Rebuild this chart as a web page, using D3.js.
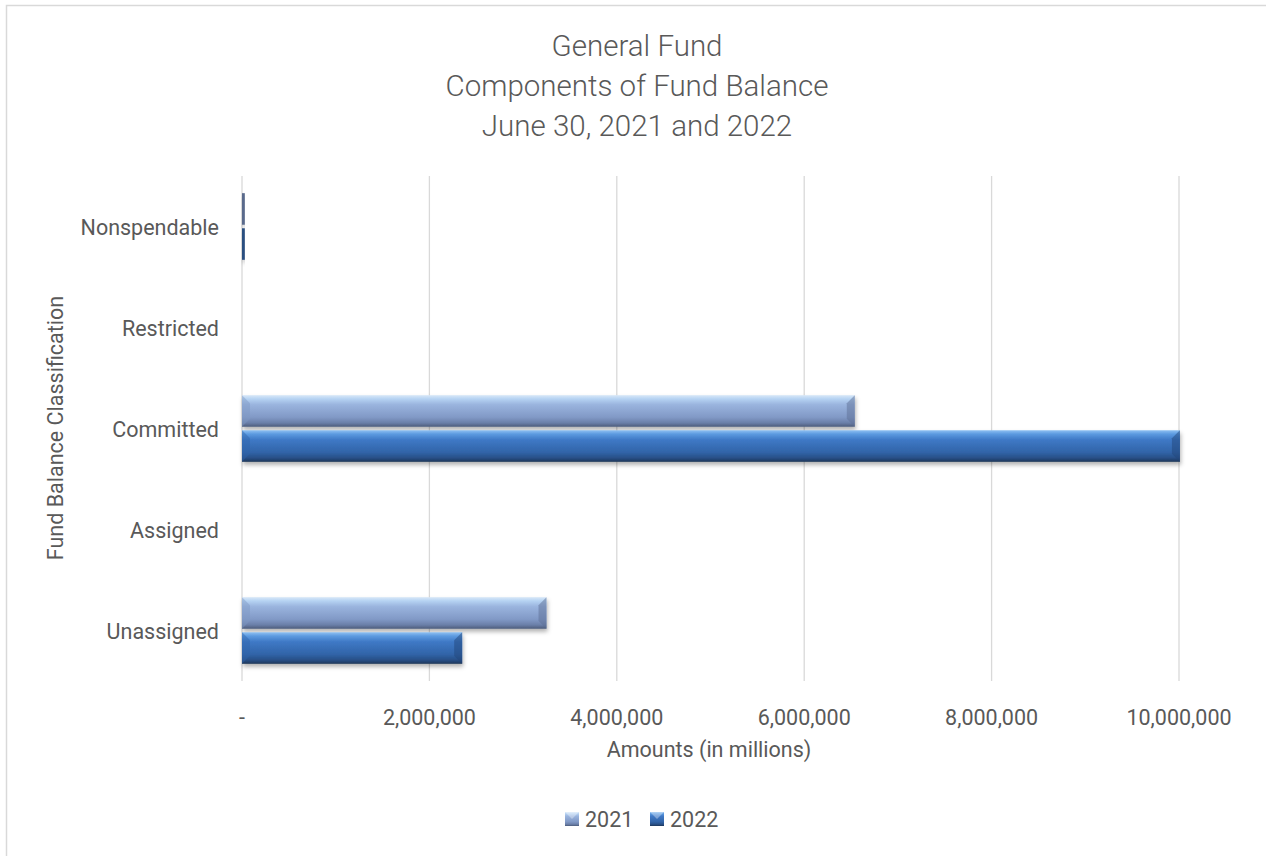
<!DOCTYPE html>
<html><head><meta charset="utf-8">
<script src="https://cdn.jsdelivr.net/npm/d3@7"></script>
<style>
body{margin:0;background:#fff;}
svg{display:block;}
text{font-family:Roboto, "Open Sans", sans-serif;fill:#595959;}
</style></head>
<body>
<script>
const categories = ["Nonspendable","Restricted","Committed","Assigned","Unassigned"];
const seriesNames = ["2021","2022"];
const values2021 = [30000, 0, 6540000, 0, 3250000];
const values2022 = [30000, 0, 10010000, 0, 2350000];
const xTicks = [0, 2000000, 4000000, 6000000, 8000000, 10000000];
const titleLines = ["General Fund","Components of Fund Balance","June 30, 2021 and 2022"];

const W = 1266, H = 856;
const svg = d3.select("body").append("svg").attr("width", W).attr("height", H);
const defs = svg.append("defs");

const palettes = {
  "2021": [["0%","#d8e8f8"],["12%","#b5d2f2"],["30%","#9ab4de"],["70%","#8199c6"],["88%","#6a7fa8"],["100%","#4c5b7a"]],
  "2022": [["0%","#8ec0f2"],["12%","#5c9ae0"],["30%","#3f79c6"],["70%","#3164a8"],["88%","#284f86"],["100%","#1d3658"]]
};
seriesNames.forEach((s,i)=>{
  const g = defs.append("linearGradient").attr("id","grad"+s).attr("x1",0).attr("y1",0).attr("x2",0).attr("y2",1);
  palettes[s].forEach(([o,c])=>g.append("stop").attr("offset",o).attr("stop-color",c));
});
const f = defs.append("filter").attr("id","shadow").attr("x","-5%").attr("y","-20%").attr("width","110%").attr("height","160%");
f.append("feDropShadow").attr("dx",1).attr("dy",3).attr("stdDeviation",2).attr("flood-color","#000").attr("flood-opacity",0.3);

// chart border
svg.append("rect").attr("x",6.5).attr("y",5.5).attr("width",W).attr("height",H).attr("fill","none").attr("stroke","#d9d9d9").attr("stroke-width",1.5);

const m = {left:242, right:1179, top:176, bottom:681};
const x = d3.scaleLinear().domain([0,10000000]).range([m.left, m.right]);
const y = d3.scaleBand().domain(categories).range([m.top, m.bottom]).paddingInner(0.34).paddingOuter(0.17);
const y1 = d3.scaleBand().domain(seriesNames).range([0, y.bandwidth()]).paddingInner(0.1);

// gridlines
svg.append("g").selectAll("line").data(xTicks.slice(1)).join("line")
  .attr("x1",d=>x(d)).attr("x2",d=>x(d)).attr("y1",m.top).attr("y2",m.bottom)
  .attr("stroke","#d9d9d9").attr("stroke-width",1.3);
svg.append("line").attr("x1",x(0)).attr("x2",x(0)).attr("y1",m.top).attr("y2",m.bottom)
  .attr("stroke","#d9d9d9").attr("stroke-width",1.3);

// bars
const data = categories.map((c,i)=>({cat:c, vals:[{s:"2021",v:values2021[i]},{s:"2022",v:values2022[i]}]}));
const groups = svg.append("g").selectAll("g").data(data).join("g")
  .attr("transform",d=>`translate(0,${y(d.cat)})`);
groups.selectAll("g.bar").data(d=>d.vals.filter(v=>v.v>0)).join("g").attr("class","bar").each(function(d){
  const g = d3.select(this);
  const x0 = x(0), x1 = x(d.v), yy = y1(d.s), h = y1.bandwidth();
  const w = x1 - x0;
  if (w < 6) {
    g.append("rect").attr("x",x0).attr("y",yy).attr("width",w).attr("height",h)
      .attr("fill", d.s==="2021" ? "#5a6a8c" : "#2b4f80").attr("filter","url(#shadow)");
    return;
  }
  g.append("rect").attr("x",x0).attr("y",yy).attr("width",w).attr("height",h)
    .attr("fill",`url(#grad${d.s})`).attr("filter","url(#shadow)");
  const b = Math.min(8, h*0.3);
  g.append("path").attr("d",`M${x0},${yy} L${x0+b},${yy+b} L${x0+b},${yy+h-b} L${x0},${yy+h} Z`)
    .attr("fill", d.s==="2021" ? "#7f98c4" : "#2f64aa").attr("opacity",0.45);
  g.append("path").attr("d",`M${x1},${yy} L${x1-b},${yy+b} L${x1-b},${yy+h-b} L${x1},${yy+h} Z`)
    .attr("fill", d.s==="2021" ? "#5d7096" : "#21457a").attr("opacity",0.5);
});

// y labels
svg.append("g").selectAll("text").data(categories).join("text")
  .attr("x",219).attr("y",d=>y(d)+y.bandwidth()/2 + 8)
  .attr("text-anchor","end").attr("font-size",21.5).text(d=>d);

// x tick labels
svg.append("g").selectAll("text").data(xTicks).join("text")
  .attr("x",d=>x(d)).attr("y",725).attr("text-anchor","middle").attr("font-size",21.5)
  .text(d=> d===0 ? "-" : d3.format(",")(d));

// axis titles
svg.append("text").attr("x",709).attr("y",757).attr("text-anchor","middle").attr("font-size",21.5).text("Amounts (in millions)");
svg.append("text").attr("transform","translate(63,428) rotate(-90)").attr("text-anchor","middle").attr("font-size",21.5).text("Fund Balance Classification");

// title
svg.append("g").selectAll("text").data(titleLines).join("text")
  .attr("x",637).attr("y",(d,i)=>56+i*40).attr("text-anchor","middle").attr("font-size",29.5).attr("font-weight",300).text(d=>d);

// legend
const leg = svg.append("g").selectAll("g").data(seriesNames).join("g")
  .attr("transform",(d,i)=>`translate(${565+i*85},812)`);
leg.append("rect").attr("width",14).attr("height",14).attr("fill",d=>`url(#grad${d})`);
leg.append("path").attr("d","M0,0 L14,0 L7,7 Z").attr("fill","#ffffff").attr("opacity",0.35);
leg.append("text").attr("x",20).attr("y",15).attr("font-size",21.5).text(d=>d);
</script>
</body></html>
